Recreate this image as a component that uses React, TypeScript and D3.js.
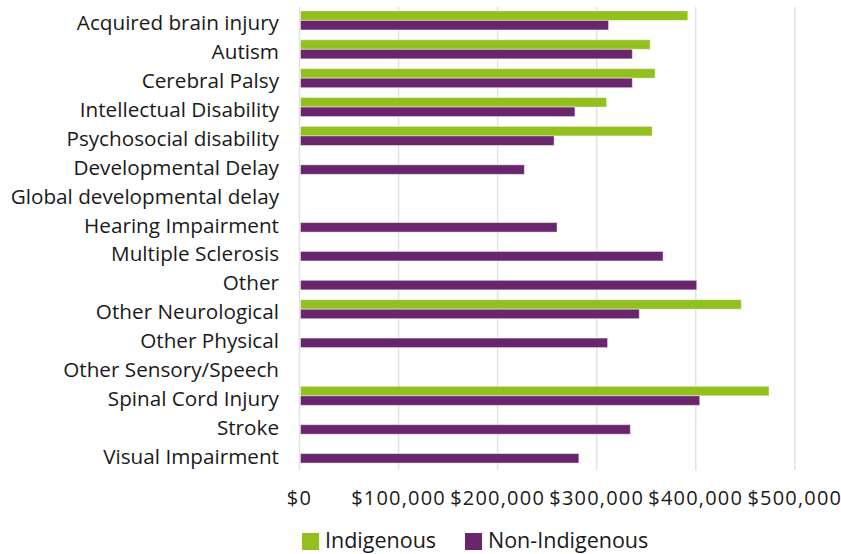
import React from "react";
import * as d3 from "d3";

const categories = [
  "Acquired brain injury",
  "Autism",
  "Cerebral Palsy",
  "Intellectual Disability",
  "Psychosocial disability",
  "Developmental Delay",
  "Global developmental delay",
  "Hearing Impairment",
  "Multiple Sclerosis",
  "Other",
  "Other Neurological",
  "Other Physical",
  "Other Sensory/Speech",
  "Spinal Cord Injury",
  "Stroke",
  "Visual Impairment",
];

const indigenous: (number | null)[] = [
  392000, 354000, 359000, 310000, 356000, null, null, null, null, null,
  446000, null, null, 474000, null, null,
];

const nonIndigenous: (number | null)[] = [
  312000, 336000, 336000, 278000, 257000, 227000, null, 260000, 367000, 401000,
  343000, 311000, null, 404000, 334000, 282000,
];

const seriesNames = ["Indigenous", "Non-Indigenous"];
const seriesColors = ["#93C01F", "#6A266D"];
const xTicks = [0, 100000, 200000, 300000, 400000, 500000];

const W = 841;
const H = 554;
const FONT = "'Open Sans', sans-serif";

export default function App() {
  const x = d3.scaleLinear().domain([0, 500000]).range([299.5, 794.8]);
  const y = d3
    .scaleBand<string>()
    .domain(categories)
    .range([6, 468])
    .paddingInner(0.34)
    .paddingOuter(0.17);
  const inner = d3
    .scaleBand<string>()
    .domain(seriesNames)
    .range([0, y.bandwidth()]);
  const series = [indigenous, nonIndigenous];
  const fmt = (v: number) => "$" + d3.format(",")(v);

  return (
    <svg
      width={W}
      height={H}
      style={{ position: "absolute", left: 0, top: 0, background: "#fff" }}
      fontFamily={FONT}
    >
      {xTicks.map((t) => (
        <line
          key={"g" + t}
          x1={x(t)}
          x2={x(t)}
          y1={7}
          y2={470}
          stroke="#e2e2e2"
          strokeWidth={1.5}
        />
      ))}
      {series.map((vals, si) =>
        vals.map((v, i) =>
          v == null ? null : (
            <rect
              key={si + "-" + i}
              x={x(0) + 1}
              y={(y(categories[i]) as number) + (inner(seriesNames[si]) as number)}
              width={x(v) - x(0) - 1}
              height={inner.bandwidth()}
              fill={seriesColors[si]}
              stroke="rgba(255,255,255,0.45)"
              strokeWidth={1}
            />
          )
        )
      )}
      {categories.map((c) => (
        <text
          key={c}
          x={279}
          y={(y(c) as number) + y.bandwidth() / 2 + 10}
          textAnchor="end"
          fontSize={20.7}
          fill="#1a1a1a"
        >
          {c}
        </text>
      ))}
      {xTicks.map((t) => (
        <text
          key={"t" + t}
          x={x(t)}
          y={505}
          textAnchor="middle"
          fontSize={20}
          letterSpacing={1.2}
          fill="#1a1a1a"
        >
          {fmt(t)}
        </text>
      ))}
      <rect x={302} y={533} width={17} height={17} fill={seriesColors[0]} />
      <text x={325} y={548} fontSize={21.5} fill="#1a1a1a">
        {seriesNames[0]}
      </text>
      <rect x={465} y={533} width={17} height={17} fill={seriesColors[1]} />
      <text x={488} y={548} fontSize={21.5} fill="#1a1a1a">
        {seriesNames[1]}
      </text>
    </svg>
  );
}
